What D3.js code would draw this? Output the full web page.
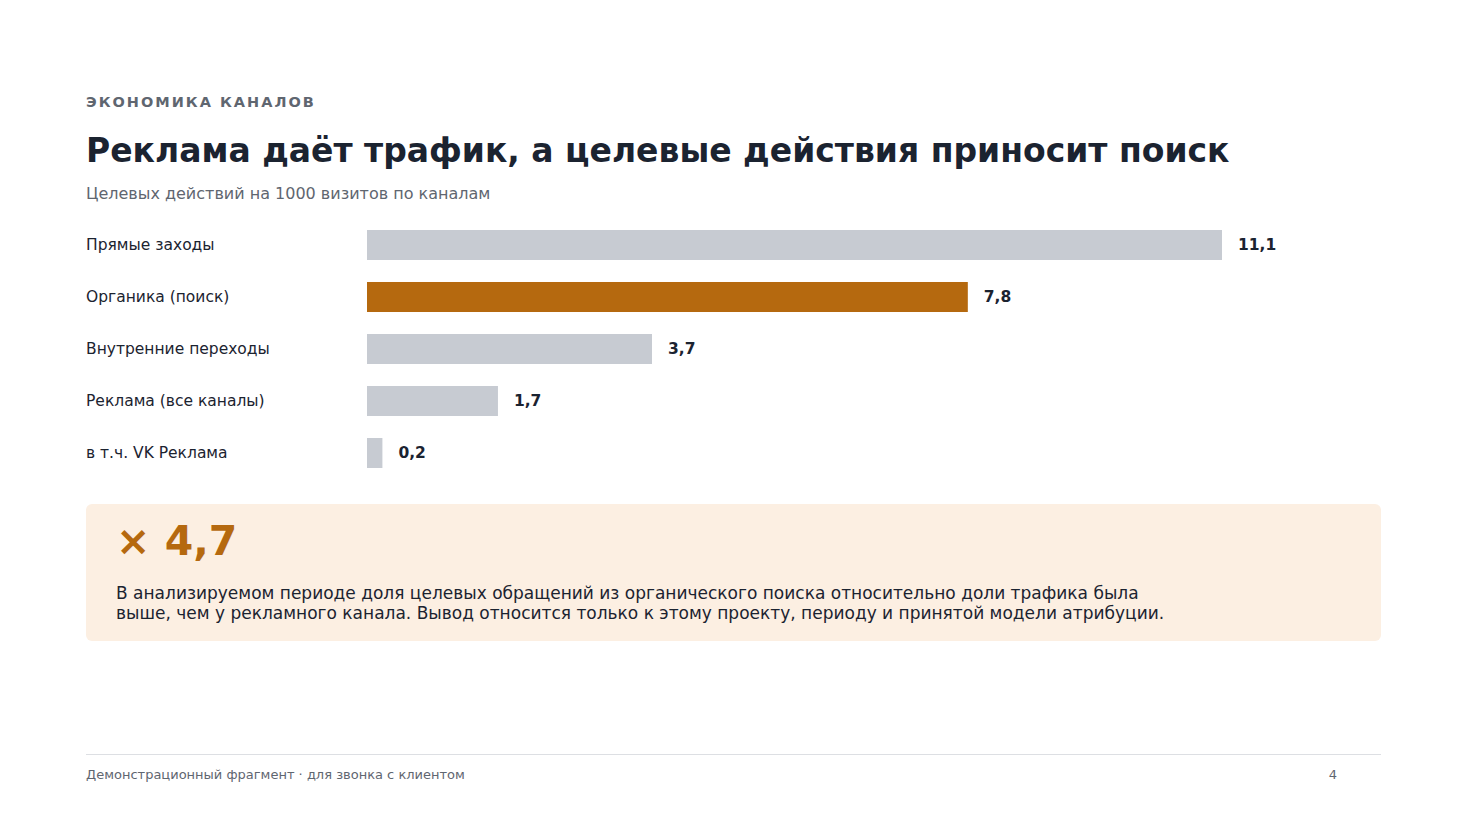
<!DOCTYPE html>
<html><head><meta charset="utf-8">
<script src="https://cdn.jsdelivr.net/npm/d3@7"></script>
<style>body{margin:0;background:#fff;font-family:"DejaVu Sans",sans-serif;}</style>
</head><body>
<svg id="c" width="1467" height="825"></svg>
<script>
const categories = ["Прямые заходы","Органика (поиск)","Внутренние переходы","Реклама (все каналы)","в т.ч. VK Реклама"];
const values = [11.1, 7.8, 3.7, 1.7, 0.2];
const highlight = ["Органика (поиск)"];
const valueLabels = ["11,1","7,8","3,7","1,7","0,2"];

const svg = d3.select("#c");
const dark = "#1b2330", gray = "#5f6670", orange = "#b5690f";

svg.append("text").attr("x",86).attr("y",107).attr("font-size",14.5).attr("font-weight","bold")
  .attr("letter-spacing",2).attr("fill",gray).text("ЭКОНОМИКА КАНАЛОВ");
svg.append("text").attr("x",86).attr("y",162).attr("font-size",33).attr("font-weight","bold")
  .attr("fill",dark).text("Реклама даёт трафик, а целевые действия приносит поиск");
svg.append("text").attr("x",86).attr("y",199).attr("font-size",16).attr("fill",gray)
  .text("Целевых действий на 1000 визитов по каналам");

const x = d3.scaleLinear().domain([0,11.1]).range([367,1222]);
const y = d3.scaleBand().domain(categories).range([219,479]).paddingInner(0.423).paddingOuter(0.2115);

const g = svg.append("g");
categories.forEach((c,i)=>{
  const yc = y(c)+y.bandwidth()/2;
  g.append("text").attr("x",86).attr("y",yc).attr("dy","0.35em").attr("font-size",15.5).attr("fill",dark).text(c);
  g.append("rect").attr("x",x(0)).attr("y",y(c)).attr("width",x(values[i])-x(0)).attr("height",y.bandwidth())
    .attr("fill",highlight.includes(c)?orange:"#c7cbd2");
  g.append("text").attr("x",x(values[i])+16).attr("y",yc).attr("dy","0.35em").attr("font-size",15.5)
    .attr("font-weight","bold").attr("fill",dark).text(valueLabels[i]);
});

svg.append("rect").attr("x",86).attr("y",504).attr("width",1295).attr("height",137).attr("rx",6).attr("fill","#fcefe2");
svg.append("text").attr("x",116).attr("y",555).attr("font-size",41).attr("font-weight","bold").attr("fill",orange).text("× 4,7");
svg.append("text").attr("x",116).attr("y",599).attr("font-size",17).attr("fill",dark)
  .text("В анализируемом периоде доля целевых обращений из органического поиска относительно доли трафика была");
svg.append("text").attr("x",116).attr("y",619).attr("font-size",17).attr("fill",dark)
  .text("выше, чем у рекламного канала. Вывод относится только к этому проекту, периоду и принятой модели атрибуции.");

svg.append("line").attr("x1",86).attr("x2",1381).attr("y1",754.5).attr("y2",754.5).attr("stroke","#dddfe3");
svg.append("text").attr("x",86).attr("y",779).attr("font-size",13).attr("fill",gray).text("Демонстрационный фрагмент · для звонка с клиентом");
svg.append("text").attr("x",1337).attr("y",779).attr("font-size",13).attr("fill",gray).attr("text-anchor","end").text("4");
</script>
</body></html>
